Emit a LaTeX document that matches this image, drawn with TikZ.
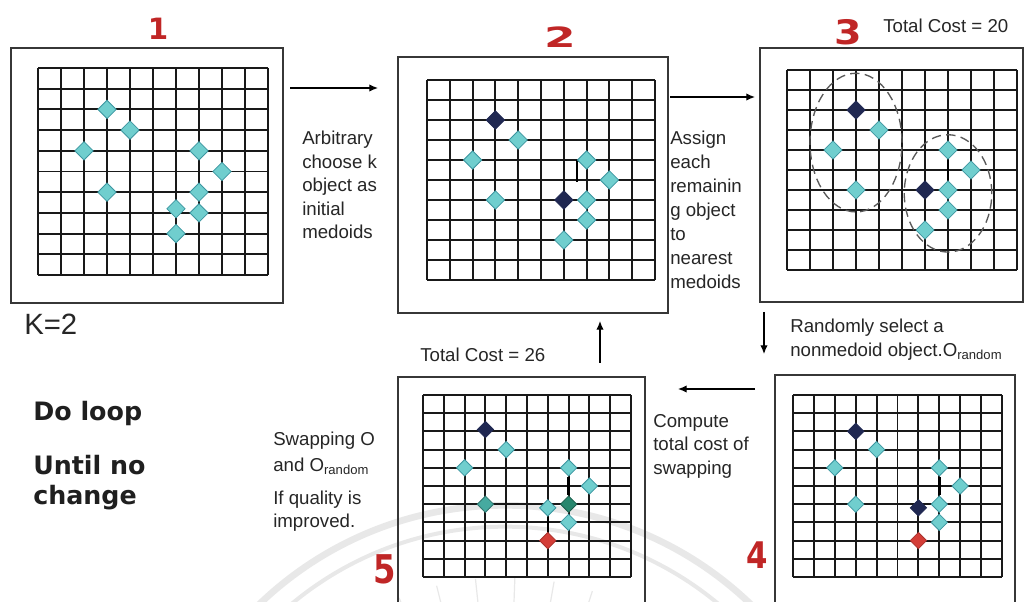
\documentclass[tikz,border=0pt]{standalone}
\usepackage{fontspec}
\setmainfont{Liberation Sans}
\newfontfamily\boldfam{DejaVu Sans}
\usetikzlibrary{shapes.geometric,arrows.meta}
\definecolor{ptfill}{RGB}{112,206,206}
\definecolor{ptedge}{RGB}{60,150,160}
\definecolor{medoid}{RGB}{32,40,82}
\definecolor{rnd}{RGB}{212,62,56}
\definecolor{swapg}{RGB}{40,135,110}
\definecolor{swapt}{RGB}{70,170,160}
\definecolor{numred}{RGB}{192,38,38}
\definecolor{boxgray}{RGB}{55,55,55}
\tikzset{
  gridln/.style={line width=1.45pt, black!90},
  panelbox/.style={draw=boxgray, line width=1.1pt},
  pt/.style={diamond, draw=ptedge, fill=ptfill, line width=0.6pt, inner sep=0pt, minimum width=14pt, minimum height=14pt},
  ptsm/.style={pt, minimum width=12.5pt, minimum height=12.5pt},
  med/.style={fill=medoid, draw=medoid},
  rndp/.style={fill=rnd, draw=rnd!80!black},
  link/.style={line width=1.8pt, black},
  clus/.style={draw=gray!70!black, line width=1pt, dash pattern=on 7pt off 4pt},
  arr/.style={line width=0.9pt, black, -{Latex[length=6.5pt,width=5.5pt]}},
  txt/.style={anchor=north west, inner sep=0pt, align=left, text=black!85, font=\fontsize{14}{17.6}\selectfont},
  cost/.style={anchor=west, inner sep=0pt, text=black!85, font=\fontsize{14}{17}\selectfont},
  big/.style={anchor=west, inner sep=0pt, text=black!88, font=\boldfam\bfseries\fontsize{19}{22}\selectfont},
  num/.style={inner sep=0pt, text=numred, font=\boldfam\bfseries\fontsize{22}{24}\selectfont},
  wm/.style={draw=gray!18}
}
\newcommand{\gridten}{\foreach \i in {0,...,10}{\draw[gridln] (\i,0) -- (\i,10); \draw[gridln] (0,\i) -- (10,\i);}}
\begin{document}
\begin{tikzpicture}[x=0.75pt,y=-0.75pt]
\clip (0,0) rectangle (1025,602);
\fill[white] (0,0) rectangle (1025,602);
% faint watermark
\begin{scope}[shift={(505,860)}]
  \draw[wm, line width=5pt] (0,0) circle [radius=266pt];
  \draw[wm, line width=3pt] (0,0) circle [radius=250pt];
  \foreach \a in {56,64,...,128} \draw[wm, line width=0.9pt] (\a:150pt) -- (\a:212pt);
\end{scope}
% panel boxes
\draw[panelbox] (11,48) rectangle (283,303);
\draw[panelbox] (398,57) rectangle (668,313);
\draw[panelbox] (760,48) rectangle (1023,302);
\draw[panelbox] (775,375) rectangle (1015,630);
\draw[panelbox] (398,377) rectangle (645,630);
% panel 1
\begin{scope}[shift={(38,68)}, x=17.25pt, y=-15.525pt]
  \gridten
  \foreach \c/\r [count=\k] in {3/2,4/3,2/4,7/4,8/5,3/6,7/6,6/6.8,7/7,6/8}
    \node[pt] (pa\k) at (\c,\r) {};
\end{scope}
% panel 2
\begin{scope}[shift={(427,80)}, x=17.1pt, y=-15pt]
  \gridten
  \draw[link] (6.57,5.1) -- (6.57,4.05) -- (6.72,4.05);
  \foreach \c/\r [count=\k] in {4/3,2/4,7/4,8/5,3/6,7/6,7/7,6/8}
    \node[pt] (pb\k) at (\c,\r) {};
  \node[pt, med] (mb1) at (3,2) {};
  \node[pt, med] (mb2) at (6,6) {};
\end{scope}
% panel 3
\begin{scope}[shift={(787,70)}, x=17.25pt, y=-15pt]
  \gridten
  \draw[clus] (3,3.63) ellipse [x radius=34.5pt, y radius=52pt];
  \draw[clus] (7,6.17) ellipse [x radius=32.8pt, y radius=44pt];
  \foreach \c/\r [count=\k] in {4/3,2/4,3/6,7/4,8/5,7/6,7/7,6/8}
    \node[pt] (pc\k) at (\c,\r) {};
  \node[pt, med] (mc1) at (3,2) {};
  \node[pt, med] (mc2) at (6,6) {};
  \draw[link] (pc4) -- (pc6);
\end{scope}
% panel 4
\begin{scope}[shift={(793,395)}, x=15.675pt, y=-13.65pt]
  \gridten
  \foreach \c/\r [count=\k] in {4/3,2/4,3/6,7/4,8/5,7/6,7/7}
    \node[ptsm] (pd\k) at (\c,\r) {};
  \node[ptsm, med] (md1) at (3,2) {};
  \node[ptsm, med] (md2) at (6,6.2) {};
  \node[ptsm, rndp] (rd) at (6,8) {};
  \draw[link] (pd4) -- (pd6);
\end{scope}
% panel 5
\begin{scope}[shift={(423,395)}, x=15.6pt, y=-13.65pt]
  \gridten
  \foreach \c/\r [count=\k] in {4/3,2/4,7/4,8/5,6/6.2,7/7}
    \node[ptsm] (pe\k) at (\c,\r) {};
  \node[ptsm, fill=swapt, draw=swapt!70!black] (se1) at (3,6) {};
  \node[ptsm, fill=swapg, draw=swapg!70!black] (se2) at (7,6) {};
  \node[ptsm, med] (me1) at (3,1.9) {};
  \node[ptsm, rndp] (re) at (6,8) {};
  \draw[link] (pe3) -- (se2);
  \draw[link] (pe5) -- (re);
\end{scope}
% numerals
\node[num] (n1) at (158,29) {1};
\node[num] (n2) at (560,37) {\scalebox{1.55}[0.95]{2}};
\node[num] (n3) at (848,32) {\scalebox{1.35}[1.15]{3}};
\node[num] (n4) at (757,555) {\scalebox{1.05}[1.25]{4}};
\node[num] (n5) at (385,569) {\scalebox{1.1}[1.35]{5}};
% labels
\node[cost] (tc20) at (883,26) {Total Cost = 20};
\node[cost] (tc26) at (420,355) {Total Cost = 26};
\node[anchor=west, inner sep=0pt, text=black!85, font=\fontsize{22}{24}\selectfont] (k2) at (24,324) {K=2};
\node[big] (do) at (33,414) {Do loop};
\node[big] (until) at (33,465) {Until no};
\node[big] (chg) at (33,498) {change};
\node[txt] (t12) at (302,131) {Arbitrary\\choose k\\object as\\initial\\medoids};
\node[txt, font=\fontsize{14}{18}\selectfont] (t23) at (670,131) {Assign\\each\\remainin\\g object\\to\\nearest\\medoids};
\node[txt, font=\fontsize{14}{18}\selectfont] (t34) at (790,319) {Randomly select a\\nonmedoid object.O\textsubscript{random}};
\node[txt] (t45) at (653,414) {Compute\\total cost of\\swapping};
\node[txt, font=\fontsize{14}{19.5}\selectfont] (t51) at (273,432) {Swapping O\\and O\textsubscript{random}};
\node[txt, font=\fontsize{14}{17.3}\selectfont] (t52) at (273,491) {If quality is\\improved.};
% arrows
\coordinate (a12s) at (290,88);  \coordinate (a12e) at (378,88);
\coordinate (a23s) at (670,97);  \coordinate (a23e) at (755,97);
\coordinate (a34s) at (764,312); \coordinate (a34e) at (764,354);
\coordinate (a45s) at (755,389); \coordinate (a45e) at (678,389);
\coordinate (a52s) at (600,363); \coordinate (a52e) at (600,321);
\draw[arr] (a12s) -- (a12e);
\draw[arr] (a23s) -- (a23e);
\draw[arr] (a34s) -- (a34e);
\draw[arr] (a45s) -- (a45e);
\draw[arr] (a52s) -- (a52e);
\end{tikzpicture}
\end{document}
